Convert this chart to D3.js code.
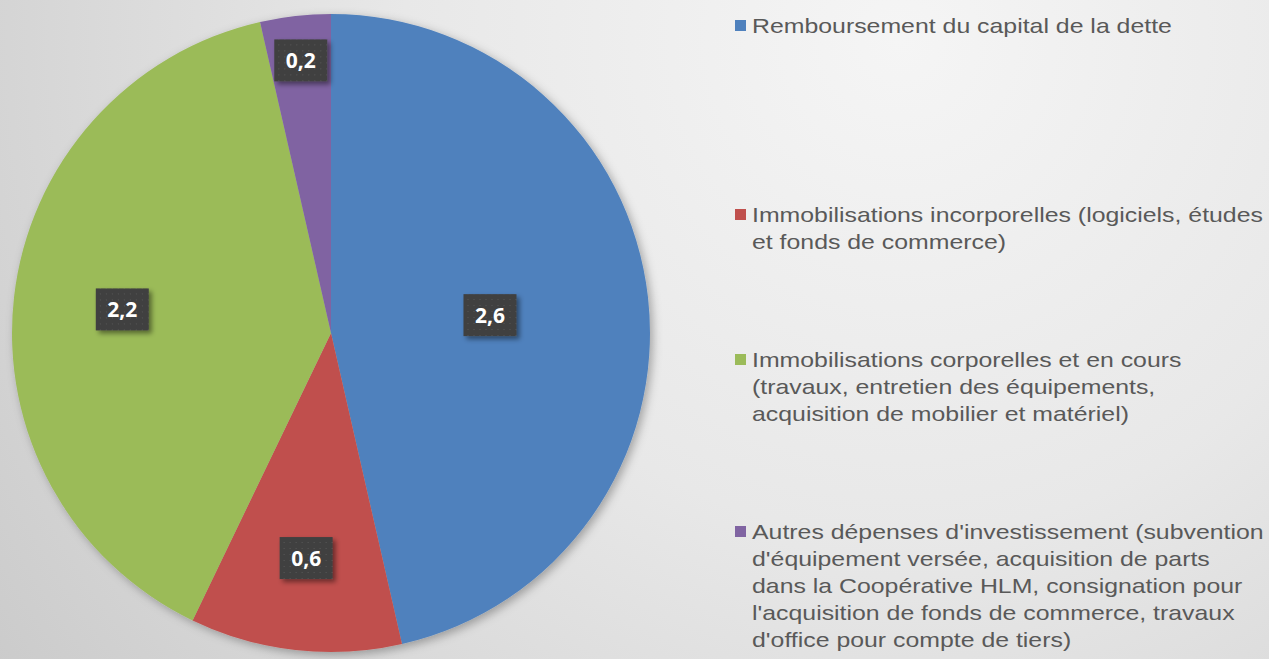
<!DOCTYPE html>
<html>
<head>
<meta charset="utf-8">
<script src="https://cdn.jsdelivr.net/npm/d3@7"></script>
<style>
  html, body { margin: 0; padding: 0; overflow: hidden; }
  svg { display: block; }
</style>
</head>
<body>
<script>
// donnees (M euros)
const categories = [
  'Remboursement du capital de la dette',
  'Immobilisations incorporelles (logiciels, études et fonds de commerce)',
  'Immobilisations corporelles et en cours (travaux, entretien des équipements, acquisition de mobilier et matériel)',
  "Autres dépenses d'investissement (subvention d'équipement versée, acquisition de parts dans la Coopérative HLM, consignation pour l'acquisition de fonds de commerce, travaux d'office pour compte de tiers)"
]
const values = [2.6, 0.6, 2.2, 0.2]
const colors = ['#4f81bd', '#c0504d', '#9bbb59', '#8064a2']

// lignes du texte de legende, comme dans l'original
const legendLines = [
  ['Remboursement du capital de la dette'],
  ['Immobilisations incorporelles (logiciels, études', 'et fonds de commerce)'],
  ['Immobilisations corporelles et en cours', '(travaux, entretien des équipements,', 'acquisition de mobilier et matériel)'],
  ["Autres dépenses d'investissement (subvention", "d'équipement versée, acquisition de parts", 'dans la Coopérative HLM, consignation pour', "l'acquisition de fonds de commerce, travaux", "d'office pour compte de tiers)"]
]

const W = 1269, H = 659
const cx = 331, cy = 333, R = 319
const labelRadius = [0.5, 0.71, 0.66, 0.86]
const legendTop = [33, 222, 367, 539]
const lineH = 27

const svg = d3.select('body').append('svg')
  .attr('width', W)
  .attr('height', H)

const defs = svg.append('defs')

const bg = defs.append('radialGradient')
  .attr('id', 'bg')
  .attr('gradientUnits', 'userSpaceOnUse')
  .attr('cx', 900).attr('cy', 40).attr('r', 1100)
bg.append('stop').attr('offset', 0).attr('stop-color', '#f5f5f5')
bg.append('stop').attr('offset', 0.45).attr('stop-color', '#e8e8e8')
bg.append('stop').attr('offset', 1).attr('stop-color', '#cbcbcb')

svg.append('rect')
  .attr('width', W)
  .attr('height', H)
  .attr('fill', 'url(#bg)')

const shadow = defs.append('filter')
  .attr('id', 'shadow')
  .attr('x', '-20%').attr('y', '-20%').attr('width', '140%').attr('height', '140%')
shadow.append('feDropShadow')
  .attr('dx', 3).attr('dy', 3).attr('stdDeviation', 5)
  .attr('flood-color', '#000').attr('flood-opacity', 0.3)

const boxShadow = defs.append('filter')
  .attr('id', 'boxShadow')
  .attr('x', '-30%').attr('y', '-30%').attr('width', '160%').attr('height', '160%')
boxShadow.append('feDropShadow')
  .attr('dx', 3).attr('dy', 3).attr('stdDeviation', 2.5)
  .attr('flood-color', '#000').attr('flood-opacity', 0.45)

const dots = defs.append('pattern')
  .attr('id', 'dots')
  .attr('patternUnits', 'userSpaceOnUse')
  .attr('width', 6).attr('height', 6)
dots.append('rect').attr('width', 6).attr('height', 6).attr('fill', '#3f3f3f')
dots.append('rect').attr('x', 2).attr('y', 2).attr('width', 1).attr('height', 1).attr('fill', '#5a5a5a')

const pie = d3.pie().sort(null).value(d => d)
const arcs = pie(values)
const arc = d3.arc().innerRadius(0).outerRadius(R)

const g = svg.append('g').attr('transform', `translate(${cx},${cy})`)

g.append('g')
  .attr('filter', 'url(#shadow)')
  .selectAll('path')
  .data(arcs)
  .join('path')
  .attr('d', arc)
  .attr('fill', (d, i) => colors[i])

const fmt = v => d3.format('.1f')(v).replace('.', ',')

const labels = g.selectAll('g.lbl')
  .data(arcs)
  .join('g')
  .attr('class', 'lbl')
  .attr('transform', (d, i) => {
    const c = d3.arc().innerRadius(0).outerRadius(R * labelRadius[i] * 2).centroid(d)
    return `translate(${c[0]},${c[1]})`
  })

labels.append('rect')
  .attr('x', -26).attr('y', -21)
  .attr('width', 53).attr('height', 42)
  .attr('fill', 'url(#dots)')
  .attr('filter', 'url(#boxShadow)')

labels.append('text')
  .attr('x', 0.5)
  .attr('text-anchor', 'middle')
  .attr('dy', '0.36em')
  .attr('fill', '#fff')
  .style('font-family', '"Open Sans", sans-serif')
  .style('font-weight', 700)
  .style('font-size', '21px')
  .text(d => fmt(d.data))

// legende
const legend = svg.append('g')

legendLines.forEach((lines, i) => {
  const item = legend.append('g').attr('class', 'item')
  item.append('rect')
    .attr('x', 735)
    .attr('y', legendTop[i] - 13)
    .attr('width', 11)
    .attr('height', 11)
    .attr('fill', colors[i])
  const t = item.append('text')
    .attr('fill', '#595959')
    .style('font-family', '"Liberation Sans", Arial, sans-serif')
    .style('font-size', '21px')
  t.selectAll('tspan')
    .data(lines)
    .join('tspan')
    .attr('x', 752)
    .attr('y', (d, j) => legendTop[i] + j * lineH)
    .text(d => d)
})

// ajuste la largeur du texte : ligne 1 mesure ~420px dans l'original
const first = legend.select('text').node()
const k = 420 / first.getComputedTextLength()
legend.selectAll('text')
  .attr('transform', `translate(752,0) scale(${k},1) translate(-752,0)`)
</script>
</body>
</html>
